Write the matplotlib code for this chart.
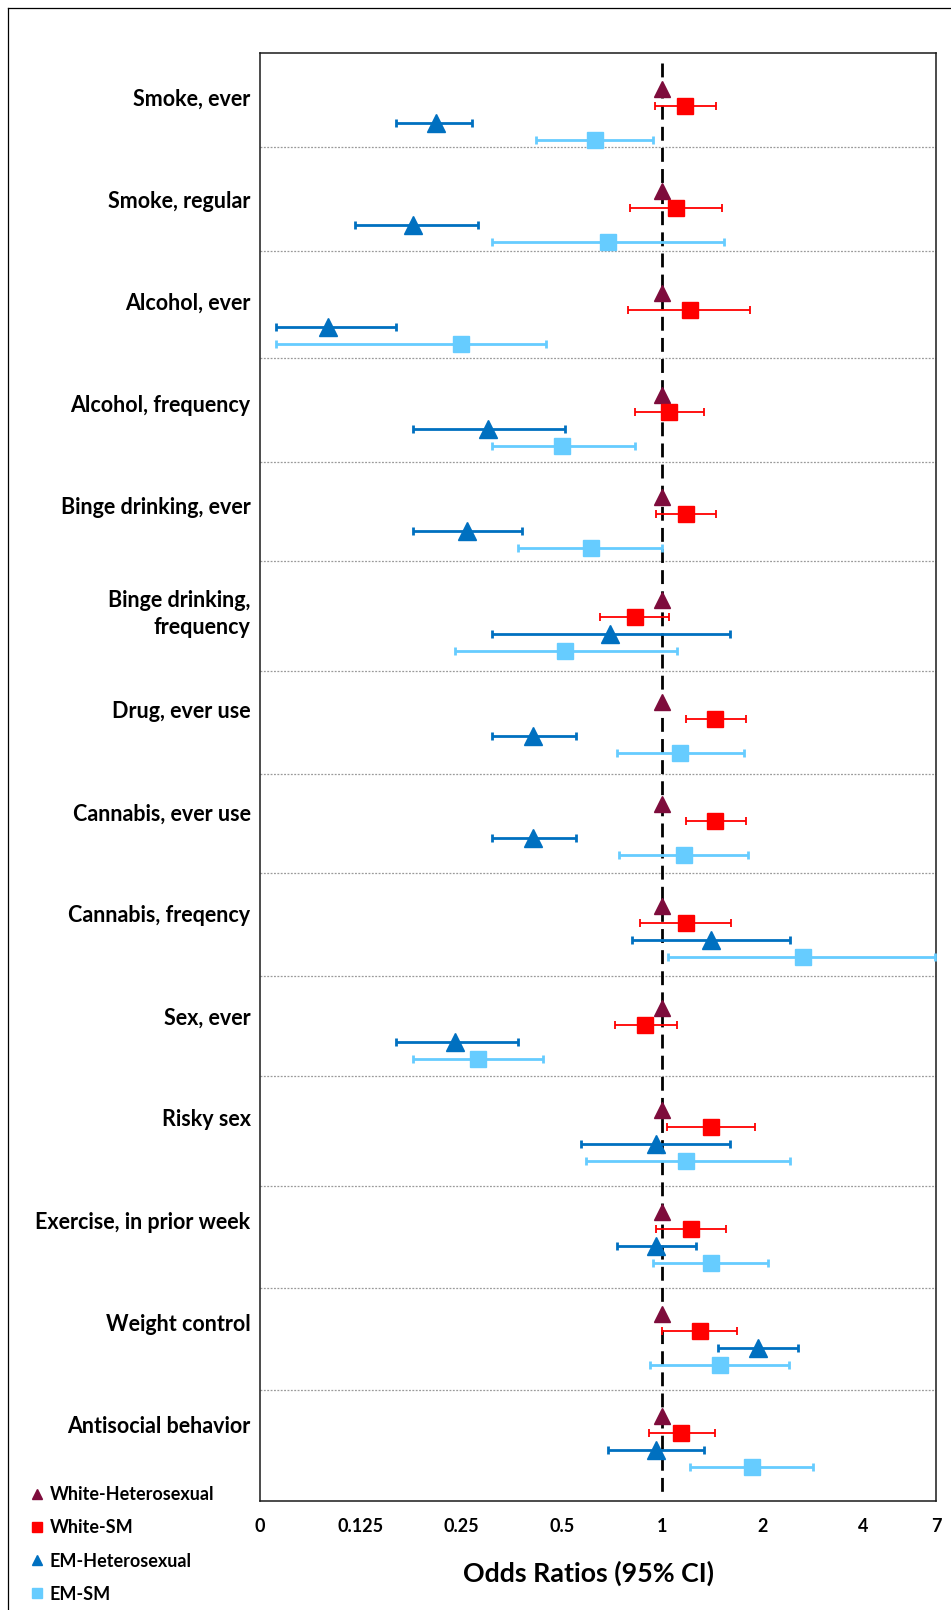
import matplotlib
matplotlib.use("Agg")
import matplotlib.pyplot as plt
from matplotlib.lines import Line2D

plt.rcParams["font.family"] = ["Lato", "DejaVu Sans"]
plt.rcParams["font.weight"] = "bold"

# Outcomes, top to bottom
categories = [
    "Smoke, ever", "Smoke, regular", "Alcohol, ever", "Alcohol, frequency",
    "Binge drinking, ever", "Binge drinking,\nfrequency", "Drug, ever use",
    "Cannabis, ever use", "Cannabis, freqency", "Sex, ever", "Risky sex",
    "Exercise, in prior week", "Weight control", "Antisocial behavior",
]
groups = ["White-Heterosexual", "White-SM", "EM-Heterosexual", "EM-SM"]

# reference group
wh_or = [1.0, 1.0, 1.0, 1.0, 1.0, 1.0, 1.0, 1.0, 1.0, 1.0, 1.0, 1.0, 1.0, 1.0]

wsm_or = [1.17, 1.10, 1.21, 1.05, 1.18, 0.83, 1.44, 1.44, 1.18, 0.89, 1.40, 1.22, 1.30, 1.14]
wsm_lo = [0.95, 0.80, 0.79, 0.83, 0.96, 0.65, 1.18, 1.18, 0.86, 0.72, 1.03, 0.96, 1.00, 0.91]
wsm_hi = [1.45, 1.51, 1.83, 1.33, 1.45, 1.05, 1.78, 1.78, 1.61, 1.11, 1.90, 1.55, 1.68, 1.44]

emh_or = [0.21, 0.18, 0.10, 0.30, 0.26, 0.70, 0.41, 0.41, 1.40, 0.24, 0.96, 0.96, 1.94, 0.96]
emh_lo = [0.16, 0.12, 0.07, 0.18, 0.18, 0.31, 0.31, 0.31, 0.81, 0.16, 0.57, 0.73, 1.47, 0.69]
emh_hi = [0.27, 0.28, 0.16, 0.51, 0.38, 1.59, 0.55, 0.55, 2.42, 0.37, 1.60, 1.26, 2.55, 1.33]

emsm_or = [0.63, 0.69, 0.25, 0.50, 0.61, 0.51, 1.13, 1.16, 2.64, 0.28, 1.18, 1.40, 1.49, 1.86]
emsm_lo = [0.42, 0.31, 0.07, 0.31, 0.37, 0.24, 0.73, 0.74, 1.04, 0.18, 0.59, 0.94, 0.92, 1.21]
emsm_hi = [0.94, 1.53, 0.45, 0.83, 1.00, 1.11, 1.76, 1.81, 6.55, 0.44, 2.41, 2.08, 2.39, 2.83]

# axis runs to ~6.6 but the last label reads "7"
x_min, x_max = 0.0625, 6.6
tick_values = [0.0625, 0.125, 0.25, 0.5, 1, 2, 4, x_max]
tick_labels = ["0", "0.125", "0.25", "0.5", "1", "2", "4", "7"]

# layout: 6 rows per outcome, hand-placed divider lines
ROWS = 6
sep_rows = [3.4, 9.5, 15.8, 21.9, 27.75, 34.2, 40.25, 46.1, 52.15, 58.0, 64.5, 70.5, 76.5]

W, H = 951, 1610
fig = plt.figure(figsize=(W / 100, H / 100), dpi=100)
ax = fig.add_axes([260 / W, 1 - 1501 / H, (936 - 260) / W, (1501 - 53) / H])

base = [i * ROWS for i in range(len(categories))]

series = [
    # values, lo, hi, offset, marker, color, size, bar width, cap
    (wh_or, None, None, 0, "^", "#7E0C3C", 11, 0, 0),
    (wsm_or, wsm_lo, wsm_hi, 1, "s", "#FF0000", 12, 1.3, 2.7),
    (emh_or, emh_lo, emh_hi, 2, "^", "#0070C0", 12.5, 2.0, 2.7),
    (emsm_or, emsm_lo, emsm_hi, 3, "s", "#66CCFF", 11.5, 2.0, 2.9),
]

handles = []
for (vals, lo, hi, off, mk, col, ms, lw, cap), name in zip(series, groups):
    y = [b + off for b in base]
    if lo is not None:
        xerr = [[v - l for v, l in zip(vals, lo)], [h - v for v, h in zip(vals, hi)]]
        ax.errorbar(vals, y, xerr=xerr, fmt="none", ecolor=col, elinewidth=lw,
                    capsize=cap, capthick=lw, zorder=3)
    h, = ax.plot(vals, y, linestyle="none", marker=mk, markersize=ms, color=col,
                 markeredgecolor=col, zorder=4, label=name)
    handles.append(h)

# reference line at OR = 1
ax.plot([1, 1], [-1.55, 82.65], color="black", lw=2.0, dashes=(5, 2.6), zorder=2)

for s in sep_rows:
    ax.axhline(s, color="#9A9A9A", lw=0.9, linestyle=(0, (1.5, 1.2)), zorder=1)

ax.set_xscale("log", base=2)
ax.set_xlim(x_min, x_max)
ax.set_ylim(83.0, -2.13)
ax.set_xticks(tick_values)
ax.set_xticklabels(tick_labels)
ax.minorticks_off()
ax.set_yticks([])
ax.tick_params(axis="x", length=0, pad=12, labelsize=13)
for lab in ax.get_xticklabels():
    lab.set_fontweight("bold")
for sp in ax.spines.values():
    sp.set_linewidth(1.1)
    sp.set_color("#1a1a1a")

ax.set_xlabel("Odds Ratios (95% CI)", fontsize=19.3, fontweight="bold")
ax.xaxis.set_label_coords(0.486, -0.041)

ytr = ax.get_yaxis_transform()
for b, name in zip(base, categories):
    n_lines = name.count("\n") + 1
    ax.text(-0.014, b + 0.6 + 0.25 * (n_lines - 1), name, transform=ytr,
            ha="right", va="center", fontsize=15.5, fontweight="bold",
            linespacing=1.3)

fig.legend(handles=handles, labels=groups, loc="upper left",
           bbox_to_anchor=(30 / W, 1 - 1486 / H), frameon=False, fontsize=13,
           markerscale=0.6, handlelength=0.8, handletextpad=0.3,
           labelspacing=0.9, borderpad=0, borderaxespad=0)

# outer frame (left and top edges)
fig.add_artist(Line2D([8 / W, 8 / W], [0, 1 - 8 / H], transform=fig.transFigure,
                      color="black", lw=0.9))
fig.add_artist(Line2D([8 / W, 1], [1 - 8 / H, 1 - 8 / H], transform=fig.transFigure,
                      color="black", lw=0.9))

fig.savefig("out.png", dpi=100)
